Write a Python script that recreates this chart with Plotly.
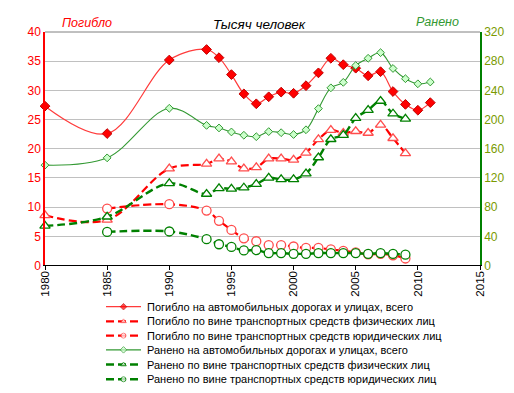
import plotly.graph_objects as go

# ---------------- data ----------------
years = [1980, 1985, 1990, 1993, 1994, 1995, 1996, 1997, 1998, 1999, 2000,
         2001, 2002, 2003, 2004, 2005, 2006, 2007, 2008, 2009, 2010, 2011]
years_part = years[:20]  # breakdown series end in 2009

killed_total = [27.3, 22.6, 35.2, 37.0, 35.6, 32.7, 29.4, 27.7, 28.9, 29.7, 29.5,
                30.8, 33.0, 35.5, 34.4, 33.8, 32.5, 33.2, 29.8, 27.6, 26.6, 27.9]
killed_individuals = [8.6, 7.8, 16.6, 17.4, 18.3, 17.8, 16.6, 16.8, 18.3, 18.3, 18.1,
                      19.3, 21.6, 23.2, 22.7, 23.0, 22.7, 24.1, 21.8, 19.2]
killed_legal = [None, 9.75, 10.5, 9.4, 7.65, 6.1, 4.65, 4.15, 3.5, 3.5, 3.25,
                3.0, 3.0, 2.75, 2.5, 2.25, 1.9, 2.0, 1.75, 1.2]

injured_total = [137.5, 147.5, 215.5, 192, 188.5, 183, 178.5, 176.5, 183.5, 182, 179.5,
                 186, 215, 243.5, 251, 274, 284, 291.7, 270, 256, 249, 251.5]
injured_individuals = [54.2, 66.8, 112.5, 98, 105.7, 105, 106.6, 111.6, 120, 118, 118,
                       126, 148, 173, 178.8, 202, 213, 225.4, 208, 201]
injured_legal = [None, 46, 46.6, 36, 29.1, 25.5, 20.6, 21.1, 17, 17, 16,
                 16, 17, 17, 17, 17, 16, 17, 16, 14.8]

legend_labels = [
    "Погибло на автомобильных дорогах и улицах, всего",
    "Погибло по вине транспортных средств физических лиц",
    "Погибло по вине транспортных средств юридических лиц",
    "Ранено на автомобильных дорогах и улицах, всего",
    "Ранено по вине транспортных средств физических лиц",
    "Ранено по вине транспортных средств юридических лиц",
]
x_ticks = [1980, 1985, 1990, 1995, 2000, 2005, 2010, 2015]

# ---------------- geometry ----------------
W, H = 514, 393
L, R, T = 37, 42, 24
PLOT_BOTTOM = 262
PH = H - T  # plot area height (margin bottom = 0)
FONT = "Arial, Liberation Sans, sans-serif"


def px2paper(xpx, ypx):
    return (xpx - L) / (W - L - R), (H - ypx) / PH


RED = "#ff0000"
RED_LINE = "#ff3b3b"
GREEN = "#008000"
GREEN_LIGHT = "#339933"
DASH = "8px,4px"

styles = [
    dict(line=dict(color=RED_LINE, width=1.2, shape="spline"),
         marker=dict(symbol="diamond", size=7.5, color=RED, line=dict(color="#c00000", width=1))),
    dict(line=dict(color=RED, width=2.2, dash=DASH, shape="spline"),
         marker=dict(symbol="triangle-up", size=9, color="white", line=dict(color="#ff4d4d", width=1.3))),
    dict(line=dict(color=RED, width=2.2, dash=DASH, shape="spline"),
         marker=dict(symbol="circle", size=9, color="white", line=dict(color="#ff4d4d", width=1.3))),
    dict(line=dict(color=GREEN_LIGHT, width=1.1, shape="spline"),
         marker=dict(symbol="diamond", size=6, color="#ccffcc", line=dict(color=GREEN_LIGHT, width=1))),
    dict(line=dict(color=GREEN, width=2.4, dash=DASH, shape="spline"),
         marker=dict(symbol="triangle-up", size=9, color="white", line=dict(color=GREEN, width=1.3))),
    dict(line=dict(color=GREEN, width=2.4, dash=DASH, shape="spline"),
         marker=dict(symbol="circle", size=9, color="white", line=dict(color=GREEN, width=1.3))),
]

series = [
    (years, killed_total, "y"),
    (years_part, killed_individuals, "y"),
    (years_part, killed_legal, "y"),
    (years, injured_total, "y2"),
    (years_part, injured_individuals, "y2"),
    (years_part, injured_legal, "y2"),
]

fig = go.Figure()
order = [2, 5, 1, 4, 3, 0]
for i in order:
    xs, ys, ax = series[i]
    st = styles[i]
    fig.add_trace(go.Scatter(
        x=xs, y=ys, yaxis=ax, xaxis="x", mode="lines+markers",
        line=st["line"], marker=st["marker"], name=legend_labels[i],
        showlegend=False, hoverinfo="skip", cliponaxis=False,
    ))

# ---------------- manual legend (helper axes in pixel units) ----------------
rows = [304, 319, 333.5, 348, 363, 378]
for i, yrow in enumerate(rows):
    st = styles[i]
    ln = dict(st["line"])
    ln["shape"] = "linear"
    mk = st["marker"]
    mk = dict(symbol=mk["symbol"], color=mk["color"], line=dict(color=mk["line"]["color"], width=1),
              size=[0, 5, 0])
    fig.add_trace(go.Scatter(
        x=[98, 115.5, 133], y=[yrow] * 3, xaxis="x3", yaxis="y3",
        mode="lines+markers", line=ln, marker=mk, showlegend=False, hoverinfo="skip",
    ))
    fig.add_annotation(x=137, y=yrow, xref="x3", yref="y3", text=legend_labels[i],
                       showarrow=False, xanchor="left", yanchor="middle",
                       font=dict(family=FONT, size=11, color="black"))

# ---------------- titles ----------------
for text, xpx, ypx, color, size in [("Погибло", 79, 15, "#ff0000", 12.5),
                                    ("Тысяч человек", 251, 16, "black", 13.5),
                                    ("Ранено", 429, 14, "#339933", 12.5)]:
    xp, yp = px2paper(xpx, ypx)
    fig.add_annotation(x=xp, y=yp, xref="paper", yref="paper", text=f"<i>{text}</i>",
                       showarrow=False, xanchor="center", yanchor="middle",
                       font=dict(family=FONT, size=size, color=color))

# top border of plot area
fig.add_shape(type="line", xref="paper", yref="y domain", x0=0, x1=1, y0=1, y1=1,
              line=dict(color="#808080", width=1))

main_bottom = (H - PLOT_BOTTOM) / PH
leg_top_px = 282
fig.update_layout(
    width=W, height=H,
    margin=dict(l=L, r=R, t=T, b=0, pad=0),
    paper_bgcolor="white", plot_bgcolor="white",
    font=dict(family=FONT, size=12, color="black"),
    showlegend=False,
    xaxis=dict(domain=[0, 1], anchor="y", range=[1980, 2015], tickvals=x_ticks,
               ticktext=[str(v) for v in x_ticks], tickangle=-90,
               showgrid=False, zeroline=False, showline=True, linecolor="black", linewidth=1,
               ticks="outside", ticklen=4, tickcolor="black", ticklabelstandoff=-4,
               tickfont=dict(family=FONT, size=11.5, color="black")),
    yaxis=dict(domain=[main_bottom, 1], anchor="x", range=[0, 40], dtick=5,
               showgrid=True, gridcolor="#c0c0c0", gridwidth=1, zeroline=False,
               showline=True, linecolor="#ff0000", linewidth=1.5, ticks="",
               tickfont=dict(family=FONT, size=12, color="#ff0000")),
    yaxis2=dict(overlaying="y", side="right", anchor="x", range=[0, 320], dtick=40,
                showgrid=False, zeroline=False, showline=True, linecolor="#008000",
                linewidth=1.5, ticks="",
                tickfont=dict(family=FONT, size=12, color="#7a9a00")),
    xaxis3=dict(domain=[0, 1], anchor="y3", range=[L, W - R], visible=False, fixedrange=True),
    yaxis3=dict(domain=[0, (H - leg_top_px) / PH], anchor="x3", range=[H, leg_top_px],
                visible=False, fixedrange=True),
)

fig.write_html("out.html")
